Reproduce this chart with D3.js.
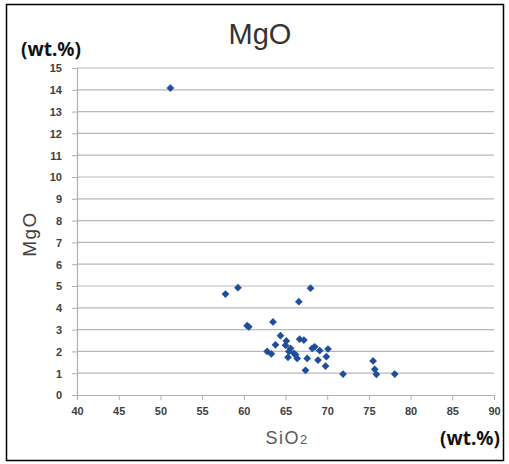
<!DOCTYPE html>
<html>
<head>
<meta charset="utf-8">
<script src="https://cdn.jsdelivr.net/npm/d3@7"></script>
<style>
  body { margin: 0; background: #fff; }
  svg { display: block; }
</style>
</head>
<body>
<div id="chart"></div>
<script>
// SiO2 / MgO values (wt.%)
var sio2 = [51.2, 57.8, 59.3, 60.4, 60.6, 63.5, 62.8, 63.3, 63.8, 64.4,
            65.1, 65.0, 65.6, 66.0, 65.3, 66.4, 66.7, 67.2, 67.6, 67.4,
            68.2, 68.5, 69.1, 68.9, 70.1, 69.9, 69.8, 71.9, 75.5, 75.7,
            75.9, 78.1, 66.6, 68.0, 65.4, 66.2];
var mgo  = [14.08, 4.63, 4.92, 3.18, 3.13, 3.35, 2.0, 1.89, 2.3, 2.72,
            2.48, 2.28, 2.14, 1.91, 1.73, 1.68, 2.56, 2.52, 1.68, 1.13,
            2.14, 2.21, 2.04, 1.6, 2.11, 1.76, 1.33, 0.96, 1.56, 1.18,
            0.95, 0.96, 4.28, 4.9, 2.0, 1.85];
var xTicks = [40, 45, 50, 55, 60, 65, 70, 75, 80, 85, 90];
var yTicks = d3.range(0, 16);

// plot box
var width = 509, height = 464;
var plotLeft = 77, plotRight = 494, plotTop = 68, plotBottom = 395;

var svg = d3.select("#chart")
  .append("svg")
    .attr("width", width)
    .attr("height", height);

// outer frame
svg.append("rect")
  .attr("x", 6.5).attr("y", 4.5)
  .attr("width", 497).attr("height", 456)
  .attr("fill", "#fff")
  .attr("stroke", "#000")
  .attr("stroke-width", 1.5);

var x = d3.scaleLinear().domain([40, 90]).range([plotLeft, plotRight]);
var y = d3.scaleLinear().domain([0, 15]).range([plotBottom, plotTop]);

// horizontal gridlines
svg.append("g")
  .selectAll("line")
  .data(yTicks.slice(1))
  .enter()
  .append("line")
    .attr("x1", plotLeft).attr("x2", plotRight)
    .attr("y1", function(d) { return y(d); })
    .attr("y2", function(d) { return y(d); })
    .attr("stroke", "#b8b8b8")
    .attr("stroke-width", 1.2);

// Y axis
var yAxis = svg.append("g")
  .attr("transform", "translate(" + plotLeft + ",0)")
  .call(d3.axisLeft(y).tickValues(yTicks).tickSize(5).tickPadding(10));

// X axis
var xAxis = svg.append("g")
  .attr("transform", "translate(0," + plotBottom + ")")
  .call(d3.axisBottom(x).tickValues(xTicks).tickSize(5).tickPadding(6));

[xAxis, yAxis].forEach(function(ax) {
  ax.select(".domain").attr("stroke", "#b0b0b0").attr("stroke-width", 1.2);
  ax.selectAll(".tick line").attr("stroke", "#b0b0b0");
  ax.selectAll("text")
    .attr("fill", "#404040")
    .style("font-family", "'Liberation Sans', Arial, sans-serif")
    .style("font-weight", "bold")
    .style("font-size", "11px");
});
yAxis.selectAll("text").attr("dy", "0.35em");
xAxis.selectAll("text").attr("dy", "0.85em");

// points (square turned 45 degrees = Excel diamond)
var pts = sio2.map(function(d, i) { return { x: d, y: mgo[i] }; });
svg.append("g")
  .selectAll("path")
  .data(pts)
  .enter()
  .append("path")
    .attr("transform", function(d) {
      return "translate(" + x(d.x) + "," + y(d.y) + ") rotate(45)";
    })
    .attr("d", d3.symbol().type(d3.symbolSquare).size(30))
    .attr("fill", "#1f4e9c");

// title
svg.append("text")
  .attr("x", 260).attr("y", 44)
  .attr("text-anchor", "middle")
  .attr("fill", "#333")
  .style("font-family", "'Liberation Sans', Arial, sans-serif")
  .style("font-size", "29px")
  .text("MgO");

// unit labels
svg.append("text")
  .attr("x", 21).attr("y", 56)
  .attr("fill", "#111")
  .style("font-family", "'Noto Sans', sans-serif")
  .style("font-weight", "bold")
  .style("font-size", "19px")
  .text("(wt.%)");

svg.append("text")
  .attr("x", 440).attr("y", 445)
  .attr("fill", "#111")
  .style("font-family", "'Noto Sans', sans-serif")
  .style("font-weight", "bold")
  .style("font-size", "19px")
  .text("(wt.%)");

// Y axis label
svg.append("text")
  .attr("transform", "translate(36,234) rotate(-90)")
  .attr("text-anchor", "middle")
  .attr("fill", "#404040")
  .style("font-family", "'Liberation Sans', Arial, sans-serif")
  .style("font-size", "19px")
  .style("letter-spacing", "1.5px")
  .text("MgO");

// X axis label
var xl = svg.append("text")
  .attr("x", 287).attr("y", 444)
  .attr("text-anchor", "middle")
  .attr("fill", "#595959")
  .style("font-family", "'Liberation Sans', Arial, sans-serif")
  .style("font-size", "18px")
  .style("letter-spacing", "1.5px");
xl.append("tspan").text("SiO");
xl.append("tspan").attr("font-size", "13px").text("2");
</script>
</body>
</html>
